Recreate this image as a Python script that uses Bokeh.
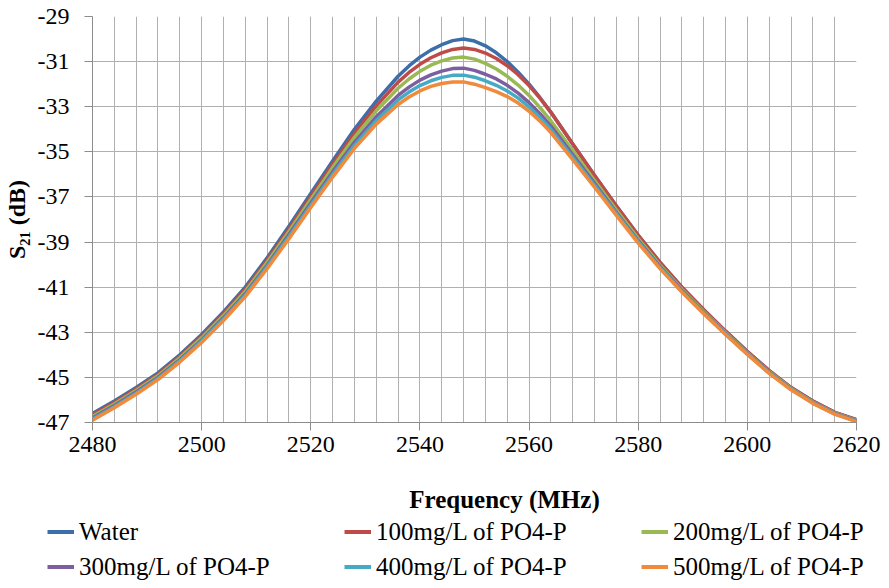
from bokeh.plotting import figure
from bokeh.layouts import column
from bokeh.models import Range1d, Legend, LegendItem, Label, FixedTicker
from bokeh.embed import file_html
from bokeh.resources import INLINE

# ---- data ----
freq = [2480, 2484, 2488, 2492, 2496, 2500, 2504, 2508, 2512, 2516, 2520, 2524, 2528, 2532, 2536,
        2538, 2540, 2542, 2544, 2546, 2548, 2550, 2552, 2554, 2556, 2558, 2560, 2562, 2564,
        2568, 2572, 2576, 2580, 2584, 2588, 2592, 2596, 2600, 2604, 2608, 2612, 2616, 2620]

water = [-46.60, -46.05, -45.45, -44.80, -44.00, -43.10, -42.10, -41.00, -39.70, -38.30,
         -36.85, -35.40, -34.00, -32.75, -31.65,
         -31.19, -30.80, -30.49, -30.25, -30.07, -30.00, -30.09, -30.30, -30.61, -31.00,
         -31.47, -32.00, -32.60, -33.25,
         -34.65, -36.05, -37.40, -38.70, -39.90, -41.00, -42.00, -42.95, -43.85, -44.70,
         -45.45, -46.05, -46.55, -46.88]

po4_100 = [-46.66, -46.11, -45.51, -44.86, -44.07, -43.17, -42.18, -41.09, -39.80, -38.42,
           -36.98, -35.55, -34.18, -32.96, -31.91,
           -31.48, -31.12, -30.83, -30.61, -30.46, -30.40, -30.46, -30.62, -30.86, -31.18,
           -31.58, -32.06, -32.62, -33.25,
           -34.65, -36.05, -37.40, -38.70, -39.90, -41.00, -42.00, -42.95, -43.85, -44.70,
           -45.45, -46.05, -46.55, -46.88]

po4_200 = [-46.73, -46.18, -45.58, -44.93, -44.13, -43.25, -42.26, -41.18, -39.90, -38.53,
           -37.11, -35.70, -34.36, -33.18, -32.18,
           -31.77, -31.43, -31.16, -30.97, -30.84, -30.80, -30.89, -31.08, -31.33, -31.65,
           -32.04, -32.50, -33.04, -33.63,
           -34.94, -36.27, -37.58, -38.85, -40.02, -41.09, -42.08, -43.01, -43.91, -44.75,
           -45.49, -46.09, -46.58, -46.91]

po4_300 = [-46.80, -46.25, -45.65, -45.00, -44.22, -43.34, -42.36, -41.29, -40.03, -38.67,
           -37.27, -35.89, -34.58, -33.44, -32.50,
           -32.13, -31.82, -31.59, -31.42, -31.31, -31.29, -31.39, -31.56, -31.77, -32.05,
           -32.40, -32.82, -33.31, -33.86,
           -35.13, -36.40, -37.69, -38.94, -40.09, -41.15, -42.12, -43.05, -43.94, -44.78,
           -45.52, -46.12, -46.60, -46.93]

po4_400 = [-46.85, -46.30, -45.70, -45.05, -44.27, -43.39, -42.42, -41.35, -40.10, -38.76,
           -37.37, -36.01, -34.71, -33.61, -32.70,
           -32.35, -32.06, -31.85, -31.70, -31.61, -31.60, -31.69, -31.85, -32.05, -32.30,
           -32.62, -33.01, -33.48, -34.01,
           -35.24, -36.49, -37.75, -38.99, -40.14, -41.19, -42.15, -43.08, -43.96, -44.80,
           -45.53, -46.13, -46.62, -46.95]

po4_500 = [-46.90, -46.35, -45.75, -45.10, -44.32, -43.45, -42.48, -41.42, -40.18, -38.85,
           -37.47, -36.12, -34.85, -33.77, -32.90,
           -32.57, -32.30, -32.10, -31.97, -31.90, -31.90, -32.00, -32.15, -32.33, -32.55,
           -32.84, -33.20, -33.64, -34.15,
           -35.35, -36.57, -37.82, -39.05, -40.18, -41.22, -42.18, -43.10, -43.98, -44.82,
           -45.55, -46.15, -46.63, -46.96]

series_names = ["Water", "100mg/L of PO4-P", "200mg/L of PO4-P",
                "300mg/L of PO4-P", "400mg/L of PO4-P", "500mg/L of PO4-P"]
series_values = [water, po4_100, po4_200, po4_300, po4_400, po4_500]
colors = ["#3C6EAA", "#BE4B48", "#98B954", "#7D5FA0", "#46AAC5", "#F08A3C"]

x_major_ticks = [2480, 2500, 2520, 2540, 2560, 2580, 2600, 2620]
x_grid_ticks = list(range(2480, 2621, 4))
y_ticks = [-47, -45, -43, -41, -39, -37, -35, -33, -31, -29]

FONT = "Liberation Serif"
W = 881
H_MAIN = 468
H_LEG = 112

# ---------------- main plot ----------------
p = figure(width=W, height=H_MAIN, output_backend="svg", toolbar_location=None,
           x_range=Range1d(2480, 2620), y_range=Range1d(-47, -29),
           min_border_left=88, min_border_right=25, min_border_top=16,
           min_border_bottom=46)
p.frame_align = False
p.outline_line_color = None
p.background_fill_color = "white"
p.border_fill_color = "white"

xt = FixedTicker(ticks=x_major_ticks, minor_ticks=x_grid_ticks)
p.xaxis.ticker = xt
p.xgrid.ticker = xt
p.xgrid.grid_line_color = "#B0B0B0"
p.xgrid.minor_grid_line_color = "#B0B0B0"

yt = FixedTicker(ticks=y_ticks)
p.yaxis.ticker = yt
p.ygrid.ticker = yt
p.ygrid.grid_line_color = "#B0B0B0"
p.yaxis.major_label_overrides = {t: str(t) for t in y_ticks}

for ax in (p.xaxis[0], p.yaxis[0]):
    ax.axis_line_color = "#8C8C8C"
    ax.major_tick_line_color = "#8C8C8C"
    ax.minor_tick_line_color = None
    ax.major_tick_in = 0
    ax.major_tick_out = 8
    ax.major_label_text_font = FONT
    ax.major_label_text_font_size = "24px"
    ax.major_label_text_color = "black"

p.xaxis.major_label_standoff = 6
p.yaxis.major_label_standoff = 15

p.yaxis.axis_label = "S\u2082\u2081 (dB)"
p.yaxis.axis_label_text_font = FONT
p.yaxis.axis_label_text_font_style = "bold"
p.yaxis.axis_label_text_font_size = "24px"
p.yaxis.axis_label_text_color = "black"
p.yaxis.axis_label_standoff = 5

for vals, col in zip(series_values, colors):
    p.line(freq, vals, line_color=col, line_width=3.5, line_join="round", line_cap="round")

# ---------------- x title + legend strip ----------------
p2 = figure(width=W, height=H_LEG, output_backend="svg", toolbar_location=None,
            x_range=Range1d(0, 1), y_range=Range1d(0, 1),
            x_axis_location=None, y_axis_location=None,
            min_border=0, min_border_left=0, min_border_right=0,
            min_border_top=0, min_border_bottom=0)
p2.frame_align = False
p2.outline_line_color = None
p2.grid.visible = False
p2.background_fill_color = "white"
p2.border_fill_color = "white"

xtitle = Label(x=504, y=81, x_units="screen", y_units="screen",
               text="Frequency (MHz)", text_align="center", text_baseline="middle",
               text_font=FONT, text_font_style="bold", text_font_size="25px",
               text_color="black")
p2.add_layout(xtitle)

# legend swatches: the same series, drawn outside this strip's visible range
leg_renderers = []
for vals, col in zip(series_values, colors):
    leg_renderers.append(p2.line(freq, vals, line_color=col, line_width=4))

items = [LegendItem(label=n, renderers=[r]) for n, r in zip(series_names, leg_renderers)]
legend = Legend(items=items, location=(47, -4), orientation="horizontal", ncols=3,
                padding=0, margin=0, spacing=0, border_line_color=None,
                background_fill_alpha=0, glyph_width=27, glyph_height=35,
                label_height=35, label_width=265, label_standoff=5,
                label_text_font=FONT, label_text_font_size="25px",
                label_text_color="black")
p2.add_layout(legend)

layout = column(p, p2, spacing=0)
open("out.html", "w").write(file_html(layout, INLINE))
